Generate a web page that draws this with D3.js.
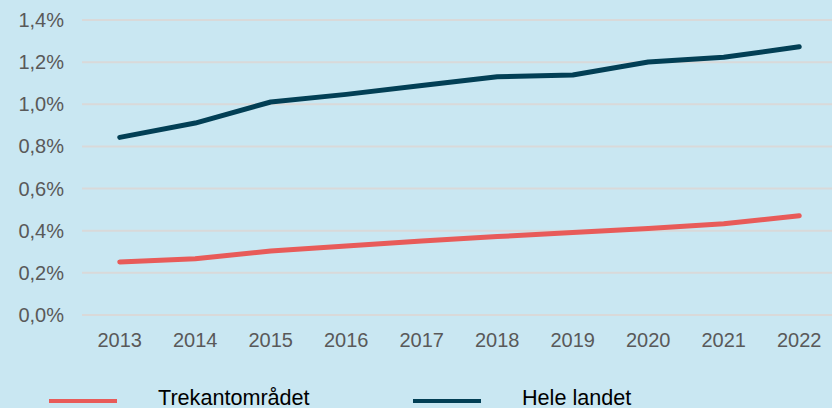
<!DOCTYPE html>
<html>
<head>
    <meta charset="utf-8" />
    <title></title>
    <script src="https://cdn.jsdelivr.net/npm/d3@7"></script>
    <style>
        body { margin: 0; background: #c9e7f2; }
        svg text { font-family: "Liberation Sans", Arial, sans-serif; }
    </style>
</head>
<body>
    <svg width="832" height="408"></svg>
    <script>
        var years = [2013, 2014, 2015, 2016, 2017, 2018, 2019, 2020, 2021, 2022];
        var trekant = [0.252, 0.267, 0.304, 0.327, 0.351, 0.372, 0.392, 0.411, 0.433, 0.471];
        var heleLandet = [0.843, 0.911, 1.011, 1.047, 1.089, 1.131, 1.139, 1.201, 1.223, 1.273];
        var yTicks = [0, 0.2, 0.4, 0.6, 0.8, 1.0, 1.2, 1.4];
        var seriesNames = ["Trekantområdet", "Hele landet"];
        var seriesColors = ["#e85b59", "#023f55"];

        var svg = d3.select('svg');
        svg.append('rect').attr('width', 832).attr('height', 408).attr('fill', '#c9e7f2');

        var x = d3.scaleBand().domain(years).range([82, 837]);
        var y = d3.scaleLinear().domain([0, 1.4]).range([315, 20]);

        // gridlines
        svg.append('g').selectAll('line')
            .data(yTicks)
            .enter().append('line')
            .attr('x1', 82).attr('x2', 832)
            .attr('y1', function (d) { return y(d); })
            .attr('y2', function (d) { return y(d); })
            .attr('stroke', '#d9d9d9')
            .attr('stroke-width', 2);

        // y labels
        svg.append('g').selectAll('text')
            .data(yTicks)
            .enter().append('text')
            .attr('x', 64)
            .attr('y', function (d) { return y(d) + 7; })
            .attr('text-anchor', 'end')
            .attr('fill', '#595959')
            .attr('font-size', 20)
            .text(function (d) { return d.toFixed(1).replace('.', ',') + '%'; });

        // x labels
        svg.append('g').selectAll('text')
            .data(years)
            .enter().append('text')
            .attr('x', function (d) { return x(d) + x.bandwidth() / 2; })
            .attr('y', 347)
            .attr('text-anchor', 'middle')
            .attr('fill', '#595959')
            .attr('font-size', 20)
            .text(function (d) { return d; });

        var line = d3.line()
            .x(function (d, i) { return x(years[i]) + x.bandwidth() / 2; })
            .y(function (d) { return y(d); });

        [trekant, heleLandet].forEach(function (s, i) {
            svg.append('path')
                .attr('d', line(s))
                .attr('fill', 'none')
                .attr('stroke', seriesColors[i])
                .attr('stroke-width', 5)
                .attr('stroke-linecap', 'round')
                .attr('stroke-linejoin', 'round');
        });

        // legend
        var legX = [49, 413];
        var legend = svg.append('g').selectAll('g')
            .data(seriesNames)
            .enter().append('g');
        legend.append('line')
            .attr('x1', function (d, i) { return legX[i]; })
            .attr('x2', function (d, i) { return legX[i] + 68; })
            .attr('y1', 401).attr('y2', 401)
            .attr('stroke', function (d, i) { return seriesColors[i]; })
            .attr('stroke-width', 4);
        legend.append('text')
            .attr('x', function (d, i) { return legX[i] + 109; })
            .attr('y', 405)
            .attr('fill', '#000')
            .attr('font-size', 21.6)
            .text(function (d) { return d; });
    </script>
</body>
</html>
